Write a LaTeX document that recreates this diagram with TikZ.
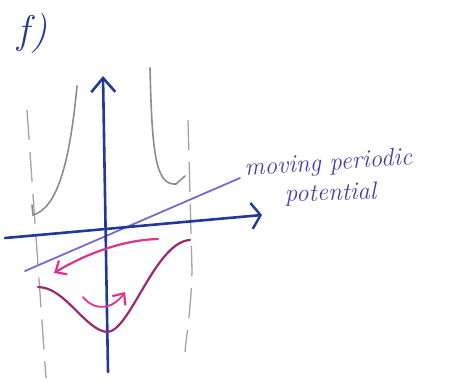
\documentclass[tikz,border=0pt]{standalone}
\usetikzlibrary{arrows.meta}
\definecolor{axisblue}{HTML}{22399A}
\definecolor{lineviolet}{HTML}{7A68D2}
\definecolor{textviolet}{HTML}{4B3FA6}
\definecolor{sketchgray}{HTML}{8C8C8C}
\definecolor{wine}{HTML}{9A2A6E}
\definecolor{hotpink}{HTML}{E0348A}
\tikzset{
  axisline/.style={draw=axisblue, line width=2.6pt, line cap=round},
  potline/.style={draw=lineviolet, line width=1.8pt, line cap=round},
  grayline/.style={draw=sketchgray, line width=1.6pt, line cap=round},
  graydash/.style={draw=sketchgray!80, line width=1.3pt, dash pattern=on 30pt off 12pt},
  wineline/.style={draw=wine, line width=2.2pt, line cap=round},
  pinkarrow/.style={draw=hotpink, line width=2.2pt, line cap=round, -{Straight Barb[length=9pt,width=16pt,line width=2.2pt]}},
  handtext/.style={text=textviolet, font=\fontsize{25}{28}\selectfont\itshape, inner sep=0pt}
}
\begin{document}
\begin{tikzpicture}[x=1pt,y=-1pt]
\useasboundingbox (0,0) rectangle (452,381);
% label
\node[text=axisblue, font=\fontsize{40}{44}\selectfont\itshape, inner sep=0pt] (lab) at (32,34) {f)};
% gray dashed asymptotes
\coordinate (dlt) at (27,110);
\coordinate (dlb) at (46,378);
\coordinate (drt) at (188,120);
\coordinate (drm) at (192,270);
\coordinate (drb) at (185,352);
\draw[graydash] (dlt) -- (dlb);
\draw[graydash] (drt) -- (drm) .. controls (191,310) and (187,330) .. (drb);
% gray divergent curves
\coordinate (gl1) at (77,86);
\coordinate (gl2) at (33,215);
\draw[grayline] (gl1) .. controls (70,160) and (58,208) .. (gl2) -- (32,205);
\coordinate (gr1) at (150,68);
\coordinate (gr2) at (176,184);
\coordinate (gr3) at (185,176);
\draw[grayline] (gr1) .. controls (152,150) and (155,186) .. (gr2) -- (gr3);
% moving periodic potential line
\coordinate (p1) at (25,271);
\coordinate (p2) at (240,178);
\draw[potline] (p1) -- (p2);
% axes
\coordinate (xa) at (5,238);
\coordinate (xb) at (262,215);
\coordinate (ya) at (108,372);
\coordinate (yb) at (103,76);
\draw[axisline, -{Straight Barb[length=9pt,width=26pt,line width=2.4pt]}] (xa) -- (xb);
\draw[axisline, -{Straight Barb[length=14pt,width=24pt,line width=2.6pt]}] (ya) -- (yb);
% periodic potential (wine)
\coordinate (w1) at (38,287);
\coordinate (w2) at (107,332);
\coordinate (w3) at (190,240);
\draw[wineline] (w1) .. controls (65,287) and (85,330) .. (w2)
  .. controls (130,332) and (155,242) .. (w3);
% pink arrows
\coordinate (a1) at (158,239);
\coordinate (a2) at (54,273);
\draw[pinkarrow] (a1) .. controls (120,240) and (82,256) .. (a2);
\coordinate (b1) at (83,297);
\coordinate (b2) at (125,292);
\draw[pinkarrow, line width=1.8pt] (b1) .. controls (95,312) and (113,309) .. (b2);
% text
\node[handtext, anchor=base west, rotate=4] (t1) at (245,176) {moving periodic};
\node[handtext, anchor=base west, rotate=2] (t2) at (285,202) {potential};
\end{tikzpicture}
\end{document}
